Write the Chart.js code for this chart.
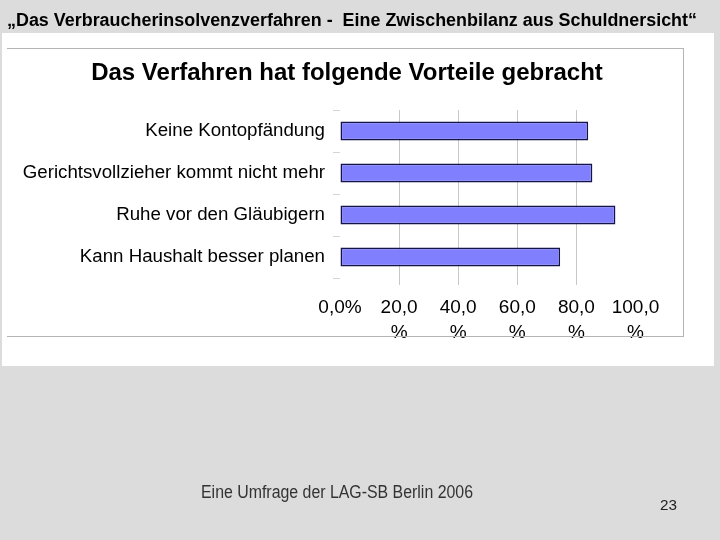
<!DOCTYPE html>
<html><head><meta charset="utf-8">
<script src="https://cdn.jsdelivr.net/npm/chart.js@4.4.1/dist/chart.umd.min.js"></script>
<style>
html,body{margin:0;padding:0;}
body{width:720px;height:540px;background:#dcdcdc;position:relative;overflow:hidden;font-family:"Liberation Sans",Arial,sans-serif;}
#panel{position:absolute;left:2px;top:33px;width:712px;height:333px;background:#fff;}
#frame{position:absolute;left:7px;top:48px;width:676px;height:287px;border-top:1px solid #b4b4b4;border-right:1px solid #b4b4b4;border-bottom:1px solid #b4b4b4;pointer-events:none;}
#wrap{position:absolute;left:0;top:0;width:720px;height:540px;}
.fit{position:absolute;white-space:nowrap;transform-origin:0 50%;}
#slideTitle{left:7px;top:8px;font-weight:bold;font-size:18px;line-height:24px;color:#000;}
#footer{left:201px;top:482px;font-size:17.5px;line-height:20px;color:#333;}
#pageNo{left:660px;top:497px;font-size:14px;line-height:16px;color:#222;}
</style></head>
<body>
<div id="panel"></div>
<div id="wrap"><canvas id="c" width="720" height="540"></canvas></div>
<div id="frame"></div>
<div id="slideTitle" class="fit" data-w="690">„Das Verbraucherinsolvenzverfahren -&nbsp; Eine Zwischenbilanz aus Schuldnersicht“</div>
<div id="footer" class="fit" data-w="272">Eine Umfrage der LAG-SB Berlin 2006</div>
<div id="pageNo" class="fit" data-w="17">23</div>
<script>
const chartTitle = 'Das Verfahren hat folgende Vorteile gebracht';
const categories = ['Keine Kontopfändung', 'Gerichtsvollzieher kommt nicht mehr', 'Ruhe vor den Gläubigern', 'Kann Haushalt besser planen'];
const values = [84.0, 85.4, 93.2, 74.5];
const xTickLabels = [['0,0%'], ['20,0', '%'], ['40,0', '%'], ['60,0', '%'], ['80,0', '%'], ['100,0', '%']];

document.querySelectorAll('.fit').forEach(el => {
  const w = el.getBoundingClientRect().width;
  el.style.transform = 'scaleX(' + (+el.dataset.w / w) + ')';
});

const FAMILY = '"Liberation Sans", Arial, sans-serif';
Chart.defaults.font.family = FAMILY;

new Chart(document.getElementById('c'), {
  type: 'bar',
  data: {
    labels: categories,
    datasets: [{
      data: values,
      backgroundColor: '#8080ff',
      borderColor: '#14144a',
      borderWidth: 1.6,
      borderSkipped: false,
      categoryPercentage: 1,
      barPercentage: 0.45
    }]
  },
  options: {
    indexAxis: 'y',
    responsive: false,
    animation: false,
    devicePixelRatio: 1,
    layout: { padding: { left: 0, right: 26, top: 58.6, bottom: 196 } },
    plugins: {
      legend: { display: false },
      tooltip: { enabled: false },
      title: {
        display: true,
        text: chartTitle,
        color: '#000',
        font: { size: 24, weight: 'bold', family: FAMILY, lineHeight: 1.2 },
        padding: { top: 0, bottom: 22.6 }
      }
    },
    scales: {
      x: {
        type: 'linear',
        min: 0, max: 100,
        position: 'bottom',
        ticks: {
          stepSize: 20,
          autoSkip: false,
          maxRotation: 0,
          padding: 10,
          color: '#000',
          font: { size: 19, family: FAMILY, lineHeight: 1.32 },
          callback: (v, i) => xTickLabels[i]
        },
        grid: {
          color: ctx => (ctx.tick && (ctx.tick.value === 0 || ctx.tick.value === 100)) ? 'rgba(0,0,0,0)' : '#c8c8c8',
          tickLength: 7,
          lineWidth: 1
        },
        border: { display: false },
        afterFit: s => { s.height = 66; }
      },
      y: {
        type: 'category',
        position: 'left',
        ticks: {
          autoSkip: false,
          padding: 8,
          color: '#000',
          font: { size: 18.7, family: FAMILY }
        },
        grid: {
          drawOnChartArea: false,
          offset: true,
          tickLength: 7,
          color: '#d4d4d4',
          tickColor: '#d4d4d4'
        },
        border: { display: false },
        afterFit: s => { s.width = 340; }
      },
      yRightSpace: {
        type: 'category',
        position: 'right',
        display: true,
        ticks: { display: false },
        grid: { display: false },
        border: { display: false },
        afterFit: s => { s.width = 58.5; }
      }
    }
  }
});
</script>
</body></html>
